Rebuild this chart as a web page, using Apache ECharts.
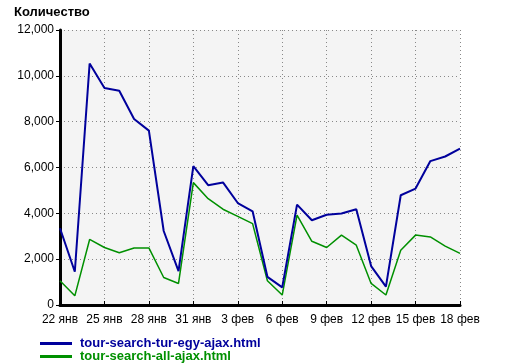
<!DOCTYPE html>
<html>
<head>
<meta charset="utf-8">
<script src="https://cdn.jsdelivr.net/npm/echarts@6/dist/echarts.min.js"></script>
<style>html,body{margin:0;padding:0;background:#fff}#c{width:528px;height:364px}</style>
</head>
<body>
<div id="c"></div>
<script>
var categories = ['22 янв','23 янв','24 янв','25 янв','26 янв','27 янв','28 янв','29 янв','30 янв','31 янв',
  '1 фев','2 фев','3 фев','4 фев','5 фев','6 фев','7 фев','8 фев','9 фев','10 фев','11 фев','12 фев','13 фев','14 фев','15 фев','16 фев','17 фев','18 фев'];
var seriesNames = ['tour-search-tur-egy-ajax.html', 'tour-search-all-ajax.html'];
var egyValues = [3350,1450,10540,9470,9350,8120,7610,3230,1480,6060,5230,5350,4450,4090,1230,770,4380,3700,3940,3990,4180,1700,800,4790,5080,6280,6480,6820];
var allValues = [1060,400,2860,2510,2280,2490,2490,1200,940,5340,4640,4180,3870,3550,1060,435,3920,2780,2510,3050,2610,940,435,2390,3050,2970,2570,2250];
var yTicks = {min: 0, max: 12000, interval: 2000};
var colors = ['#00009c', '#009000'];

var chart = echarts.init(document.getElementById('c'), null, {renderer: 'canvas'});
var font = 'Liberation Sans, Arial, sans-serif';
chart.setOption({
  animation: false,
  backgroundColor: '#ffffff',
  title: {
    text: 'Количество', left: 14, top: 6, padding: 0,
    textStyle: {fontFamily: font, fontSize: 13, fontWeight: 'bold', color: '#000'}
  },
  legend: {
    orient: 'vertical', left: 40, top: 337, itemGap: 0, padding: 0,
    height: 30,
    itemWidth: 32, itemHeight: 3, icon: 'rect',
    data: [
      {name: seriesNames[0], textStyle: {color: colors[0]}},
      {name: seriesNames[1], textStyle: {color: colors[1]}}
    ],
    textStyle: {fontFamily: font, fontSize: 13, lineHeight: 12, fontWeight: 'bold', padding: [0, 0, 0, 3]}
  },
  grid: {left: 60, top: 30, width: 400, height: 275, backgroundColor: '#f4f4f4', show: true, borderWidth: 0},
  xAxis: {
    type: 'category', data: categories, boundaryGap: false,
    axisLine: {lineStyle: {color: '#000', width: 3}},
    axisTick: {show: true, inside: true, interval: 2, length: 4, lineStyle: {color: '#000', width: 1}},
    axisLabel: {interval: 2, fontFamily: font, fontSize: 12, color: '#000', margin: 9},
    splitLine: {show: true, interval: 2, lineStyle: {color: '#888', type: [1, 3], width: 1}}
  },
  yAxis: {
    type: 'value', min: yTicks.min, max: yTicks.max, interval: yTicks.interval,
    axisLine: {show: true, lineStyle: {color: '#000', width: 3}},
    axisTick: {show: true, length: 4, lineStyle: {color: '#000'}},
    axisLabel: {fontFamily: font, fontSize: 12, color: '#000', margin: 6,
      formatter: function (v) { return v.toLocaleString('en-US'); }},
    splitLine: {show: true, lineStyle: {color: '#888', type: [1, 3], width: 1}}
  },
  series: [
    {name: seriesNames[0], type: 'line', data: egyValues, showSymbol: false, symbol: 'none',
      lineStyle: {color: colors[0], width: 2}, itemStyle: {color: colors[0]}, z: 3},
    {name: seriesNames[1], type: 'line', data: allValues, showSymbol: false, symbol: 'none',
      lineStyle: {color: colors[1], width: 1.5}, itemStyle: {color: colors[1]}, z: 2}
  ]
});
</script>
</body>
</html>
